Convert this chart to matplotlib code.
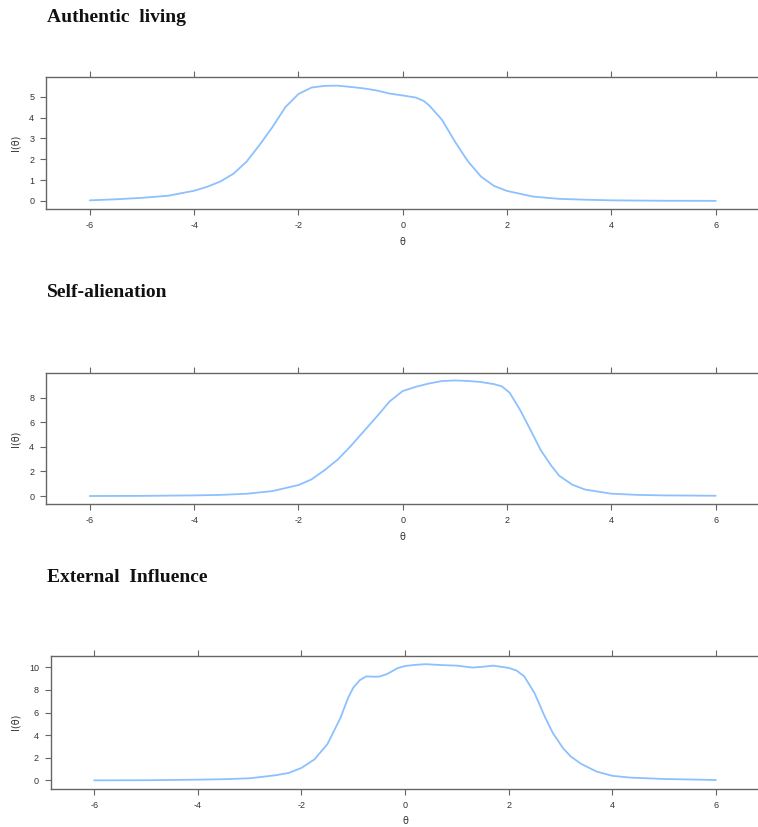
import matplotlib
matplotlib.use("Agg")
import matplotlib.pyplot as plt

titles = ["Authentic  living", "Self-alienation", "External  Influence"]

theta1 = [-6, -5.5, -5, -4.5, -4, -3.75, -3.5, -3.25, -3, -2.75, -2.5, -2.25, -2, -1.75,
          -1.5, -1.25, -1, -0.75, -0.5, -0.25, 0, 0.25, 0.4, 0.5, 0.75, 1, 1.25, 1.5,
          1.75, 2, 2.5, 3, 3.5, 4, 5, 6]
info1 = [0.03, 0.08, 0.15, 0.25, 0.49, 0.68, 0.93, 1.3, 1.87, 2.67, 3.54, 4.5, 5.13, 5.44,
         5.52, 5.53, 5.47, 5.4, 5.3, 5.15, 5.06, 4.96, 4.8, 4.6, 3.9, 2.85, 1.9, 1.17,
         0.72, 0.48, 0.21, 0.1, 0.06, 0.03, 0.01, 0.005]

theta2 = [-6, -5, -4, -3.5, -3, -2.5, -2, -1.75, -1.5, -1.25, -1, -0.75, -0.5, -0.25, 0,
          0.25, 0.5, 0.75, 1, 1.25, 1.5, 1.75, 1.9, 2.05, 2.25, 2.45, 2.65, 2.85, 3.0,
          3.25, 3.5, 4, 4.5, 5, 6]
info2 = [0.0, 0.01, 0.05, 0.09, 0.18, 0.4, 0.89, 1.35, 2.1, 2.95, 4.05, 5.25, 6.45, 7.7,
         8.54, 8.88, 9.15, 9.35, 9.4, 9.36, 9.27, 9.1, 8.92, 8.4, 7.0, 5.37, 3.7, 2.45,
         1.65, 0.92, 0.52, 0.19, 0.09, 0.05, 0.02]

theta3 = [-6, -5, -4, -3.5, -3, -2.5, -2.25, -2, -1.75, -1.5, -1.25, -1.1, -1, -0.87,
          -0.75, -0.6, -0.5, -0.35, -0.15, 0, 0.2, 0.4, 0.7, 1, 1.3, 1.5, 1.7, 2, 2.15,
          2.3, 2.5, 2.7, 2.85, 3.05, 3.2, 3.4, 3.7, 4, 4.35, 5, 6]
info3 = [0.0, 0.01, 0.06, 0.1, 0.18, 0.45, 0.65, 1.1, 1.85, 3.2, 5.5, 7.3, 8.2, 8.88,
         9.2, 9.17, 9.18, 9.4, 9.92, 10.12, 10.22, 10.28, 10.2, 10.15, 9.98, 10.05,
         10.15, 9.95, 9.72, 9.2, 7.7, 5.6, 4.2, 2.83, 2.1, 1.45, 0.77, 0.4, 0.24, 0.12,
         0.03]

xticks = [-6, -4, -2, 0, 2, 4, 6]
yticks_list = [[0, 1, 2, 3, 4, 5], [0, 2, 4, 6, 8], [0, 2, 4, 6, 8, 10]]
ylims = [(-0.4, 5.96), (-0.65, 10.03), (-0.74, 11.03)]

W, H = 758, 827
fig = plt.figure(figsize=(W / 100, H / 100), dpi=100)

# axes boxes in pixels: left, right, top, bottom (image coords)
boxes = [(46, 759.5, 76.7, 209.3), (46, 759.5, 372.7, 504.0), (50.7, 759.5, 655.7, 788.7)]
title_base = [22, 297, 582]

thetas = [theta1, theta2, theta3]
infos = [info1, info2, info3]

spine_col = "#666666"
for i in range(3):
    l, r, t, b = boxes[i]
    ax = fig.add_axes([l / W, 1 - b / H, (r - l) / W, (b - t) / H])
    ax.plot(thetas[i], infos[i], color="#8CC0FF", lw=1.3, solid_capstyle="round",
            solid_joinstyle="round")
    ax.set_xlim(-6.84, 6.84)
    ax.set_ylim(*ylims[i])
    ax.set_xticks(xticks)
    ax.set_xticklabels([str(v) for v in xticks], family="Liberation Sans")
    ax.set_yticks(yticks_list[i])
    ax.set_yticklabels([str(v) for v in yticks_list[i]], family="Liberation Sans")
    ax.tick_params(axis="both", direction="out", length=4.5, width=0.8,
                   color=spine_col, labelsize=6.5, labelcolor="#333333", pad=4)
    ax.tick_params(axis="x", top=True, labeltop=False)
    ax.spines["right"].set_visible(False)
    for s in ["left", "top", "bottom"]:
        ax.spines[s].set_color(spine_col)
        ax.spines[s].set_linewidth(1.0)
    ax.set_ylabel("I(θ)", fontsize=7, color="#333333", labelpad=6)
    ax.set_xlabel("θ", fontsize=7, color="#333333", labelpad=5)
    fig.text(47 / W, 1 - title_base[i] / H, titles[i], fontsize=14, fontweight="bold",
             family="Liberation Serif", ha="left", va="baseline", color="#111111")

fig.savefig("out.png", dpi=100)
